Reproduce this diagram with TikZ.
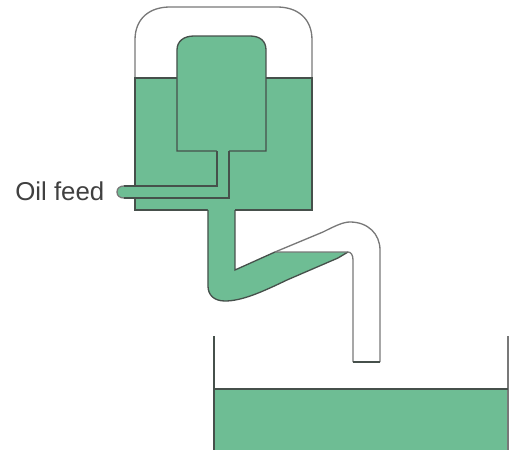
\documentclass[tikz,border=0pt]{standalone}
\usepackage{fontspec}
\setmainfont{Liberation Sans}
\usepackage{xcolor}
\definecolor{oilgreen}{RGB}{110,189,148}
\definecolor{wallgrey}{RGB}{70,80,75}
\definecolor{softgrey}{RGB}{120,120,120}
\tikzset{
  wall/.style={wallgrey, line width=0.75pt},
  thinwall/.style={softgrey, line width=0.75pt},
  oil/.style={fill=oilgreen, draw=none}
}

\begin{document}
\begin{tikzpicture}[x=0.02cm, y=-0.02cm]
  \useasboundingbox (0,0) rectangle (512,450);
  % Upper tank
  \fill[oil] (135,78) rectangle (312,210);
  \draw[thinwall] (135,78) -- (135,40) .. controls (135,18) and (150,7) .. (170,7) -- (277,7) .. controls (297,7) and (312,18) .. (312,40) -- (312,78);
  \draw[wall] (135,210) -- (135,78) -- (312,78) -- (312,210) -- cycle;
  % Inner bell
  \draw[wall, fill=oilgreen] (177,151) -- (177,50) .. controls (177,41) and (184,36) .. (194,36) -- (250,36) .. controls (260,36) and (266,41) .. (266,50) -- (266,151) -- cycle;
  % Feed pipe
  \fill[oil] (217,150) -- (229,150) -- (229,198) -- (124,198) .. controls (120,198) and (117,196) .. (117,192) .. controls (117,188) and (120,186) .. (124,186) -- (217,186) -- cycle;
  \draw[wall] (217,151) -- (217,186) -- (124,186);
  \draw[thinwall] (124,186) .. controls (120,186) and (117,188) .. (117,192) .. controls (117,196) and (120,198) .. (124,198);
  \draw[wall] (124,198) -- (229,198) -- (229,151);
  % Siphon oil
  \fill[oil] (208,209) -- (235,209) -- (235,270) -- (275,252) -- (348,252) -- (338,258) -- (287,280)
    .. controls (262,292) and (242,301) .. (225,301) .. controls (214,301) and (208,295) .. (208,286) -- cycle;
  \draw[wall] (208,210) -- (208,286) .. controls (208,295) and (214,301) .. (225,301) .. controls (242,301) and (262,292) .. (287,280) -- (338,258) -- (348,252);
  \draw[wall] (235,210) -- (235,270) -- (275,252);
  % Siphon outlet
  \draw[thinwall] (275,252) -- (348,252) .. controls (351,252) and (353,255) .. (353,260) -- (353,362);
  \draw[thinwall] (275,252) -- (323,232) .. controls (335,226) and (343,222) .. (350,222) .. controls (368,222) and (380,234) .. (380,250) -- (380,362);
  \draw[wall] (353,362) -- (380,362);
  % Lower tank
  \fill[oil] (214,389) rectangle (508,450);
  \draw[wall] (214,336) -- (214,450);
  \draw[thinwall] (508,336) -- (508,450);
  \draw[wall] (214,389) -- (508,389);
  % Label
  \node[anchor=base west, inner sep=0pt, text=black!75, font=\fontsize{14.7pt}{16pt}\selectfont] (feedlabel) at (15,200) {Oil feed};
\end{tikzpicture}
\end{document}
